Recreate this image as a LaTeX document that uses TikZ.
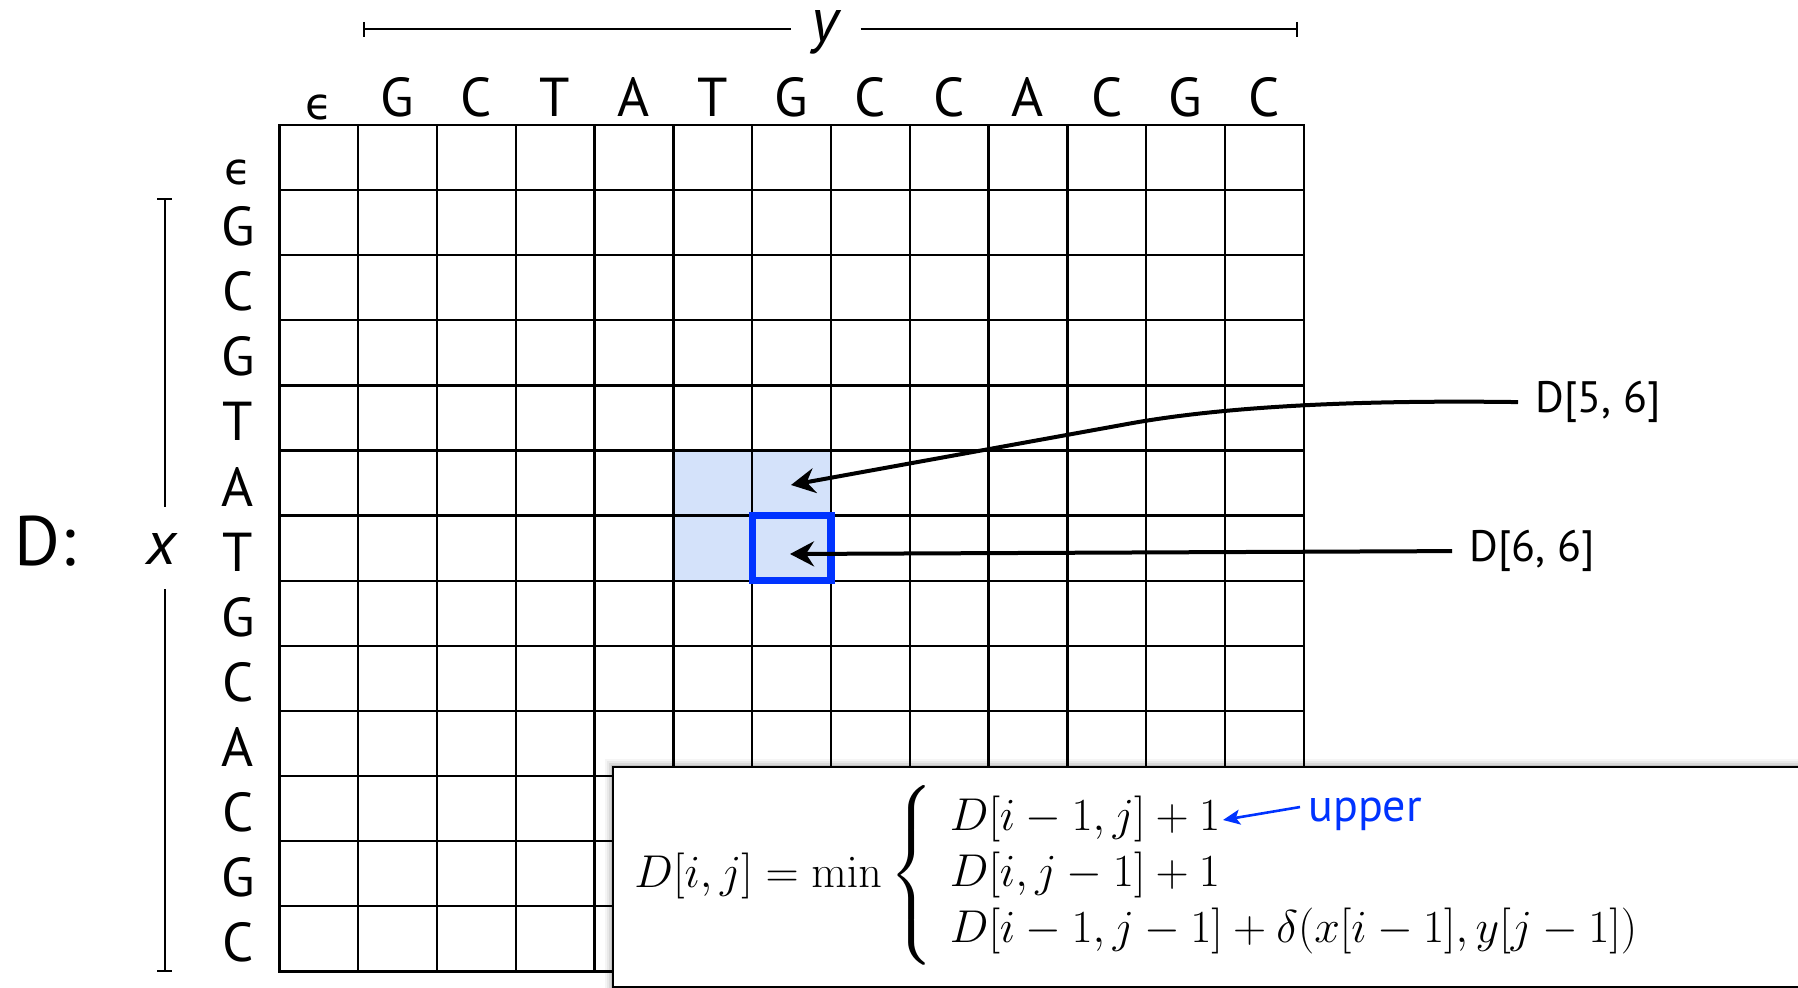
\RequirePackage{fix-cm}
\documentclass[tikz,border=0pt]{standalone}
\usepackage{amsmath}
\usepackage[no-math]{fontspec}
\setmainfont{PT Sans}
\newfontfamily\dv{DejaVu Sans}
\usetikzlibrary{arrows.meta}
\definecolor{hlblue}{RGB}{212,226,250}
\definecolor{boxblue}{RGB}{0,51,255}
\begin{document}
\begin{tikzpicture}[x=0.5pt,y=-0.5pt,
  gridline/.style={line width=1.2pt, line cap=rect},
  seqlab/.style={font=\fontsize{27.4}{30}\selectfont, anchor=base, inner sep=0},
  epslab/.style={font=\dv\fontsize{22}{26}\selectfont, anchor=base, inner sep=0},
  bracket/.style={line width=1pt},
  callout/.style={line width=2pt, -{Stealth[length=12pt,width=12.5pt,inset=4pt]}},
  lab/.style={font=\fontsize{22}{26}\selectfont, anchor=base west, inner ysep=0, inner xsep=8.5pt},
  itlab/.style={font=\itshape\fontsize{31}{36}\selectfont, anchor=base, inner sep=0},
]
\useasboundingbox (0,0) rectangle (1798,988);
\clip (0,0) rectangle (1798,988);
\def\gx{279.3}\def\cw{78.8}\def\gy{125}\def\rh{65.1}

% highlighted cells
\fill[hlblue] ({\gx+5*\cw},{\gy+5*\rh}) rectangle ({\gx+7*\cw},{\gy+7*\rh});

% grid
\foreach \k in {0,...,13} {
  \draw[gridline] ({\gx+\k*\cw},\gy) -- ({\gx+\k*\cw},{\gy+13*\rh});
  \draw[gridline] (\gx,{\gy+\k*\rh}) -- ({\gx+13*\cw},{\gy+\k*\rh});
}

% current cell
\draw[boxblue, line width=3.6pt] ({\gx+6*\cw},{\gy+6*\rh}) rectangle ({\gx+7*\cw},{\gy+7*\rh});

% column labels
\node[epslab] (col0) at ({\gx+0.5*\cw},120) {ϵ};
\foreach \c [count=\i] in {G,C,T,A,T,G,C,C,A,C,G,C}
  \node[seqlab] (col\i) at ({\gx+(\i+0.5)*\cw},116.7) {\c};

% row labels
\node[epslab] (row0) at (238,{\gy+0.5*\rh+27}) {ϵ};
\foreach \c [count=\i] in {G,C,G,T,A,T,G,C,A,C,G,C}
  \node[seqlab] (row\i) at (238,{\gy+(\i+0.5)*\rh+23}) {\c};

% D: and x
\node[font=\fontsize{35}{40}\selectfont, anchor=base west, inner sep=0] (Dlab) at (14,566) {D:};
\node[itlab] (xlab) at (162,565) {x};
\draw[bracket] (157,199) -- (172,199) (164.5,199) -- (164.5,507)
               (164.5,589) -- (164.5,971) (157,971) -- (172,971);

% y
\node[itlab] (ylab) at (825,42) {y};
\draw[bracket] (363.5,22) -- (363.5,37) (363.5,29.3) -- (791,29.3)
               (860.5,29.3) -- (1296.5,29.3) (1296.5,22) -- (1296.5,37);

% callouts
\coordinate (c56) at (791,485);
\coordinate (c66) at (790,554);
\coordinate (bend56) at (1130,423.5);
\node[lab] (L56) at (1518,412.7) {D[5, 6]};
\node[lab] (L66) at (1452,561.7) {D[6, 6]};
\draw[callout] (L56.west) .. controls (1367,400) and (1230,405.5) .. (bend56) -- (c56);
\draw[callout] (L66.west) -- (c66);

% formula box with soft shadow
\foreach \s/\o in {8/0.04, 6/0.05, 4/0.07, 2/0.10}
  \fill[black, opacity=\o] (613-\s,767-\s) rectangle (1830,1000);
\draw[line width=1.2pt, fill=white] (613,767) rectangle (1830,987);
\node[anchor=base west, inner sep=0, font=\fontsize{23}{28}\selectfont] (formula) at (634,887)
  {$D[i,j] = \min\left\{\begin{array}{@{\hspace{8pt}}l}
     D[i-1,j]+1\\
     D[i,j-1]+1\\
     D[i-1,j-1]+\delta(x[i-1],y[j-1])
   \end{array}\right.$};

% upper annotation
\node[font=\fontsize{23}{27}\selectfont, text=boxblue, anchor=base west, inner ysep=0, inner xsep=4pt] (upper) at (1300,821.7) {upper};
\coordinate (uptip) at (1223,820);
\draw[boxblue, line width=1.3pt, -{Stealth[length=8.5pt,width=7.5pt,inset=2pt]}]
  ([yshift=3.75pt]upper.west) -- (uptip);
\end{tikzpicture}
\end{document}
